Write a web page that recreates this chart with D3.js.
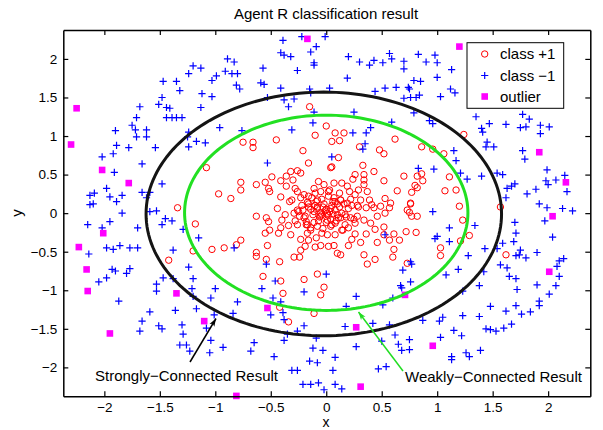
<!DOCTYPE html>
<html><head><meta charset="utf-8">
<script src="https://cdn.jsdelivr.net/npm/d3@7"></script>
<style>body{margin:0;background:#fff}svg{display:block;font-family:"Liberation Sans",Arial,Helvetica,sans-serif}</style>
</head><body><svg id="c" width="603" height="430"></svg>
<script>
const xTicks = [-2,-1.5,-1,-0.5,0,0.5,1,1.5,2];
const yTicks = [-2,-1.5,-1,-0.5,0,0.5,1,1.5,2];
const legendLabels = ["class +1","class \u22121","outlier"];

const classPos = [
[0.00,1.13],[-0.10,1.01],[0.08,1.04],[0.16,1.04],[0.12,0.94],[0.05,0.93],[-0.75,0.92],[-0.66,0.92],[-0.66,0.85],[-0.45,0.95],[-0.21,0.81],[0.30,0.86],[0.48,0.82],[0.52,0.77],[0.62,0.96],[0.11,0.72],[-0.16,0.65],[0.04,0.59],[0.05,0.60],[0.33,0.62],[0.43,0.54],[0.52,0.42],[0.70,0.48],[0.80,0.36],[0.77,0.27],[0.64,0.29],[0.76,0.13],[0.53,0.19],[0.58,0.13],[0.57,0.07],[0.73,0.04],[0.77,-0.04],[0.82,-0.04],
[-0.77,0.40],[-0.77,0.30],[-0.86,0.19],[-0.63,0.37],[-0.55,0.40],[-0.49,0.47],[-0.52,0.32],[-0.51,0.28],[-0.41,0.42],[-0.36,0.48],[-0.32,0.54],[-0.26,0.55],[-0.23,0.52],[-0.30,0.43],[-0.36,0.35],[-0.28,0.32],[-0.23,0.20],[-0.33,0.15],[-0.41,0.21],[-0.44,0.06],[-0.63,-0.04],[-0.54,-0.06],[-0.52,-0.11],[-0.51,-0.22],[-0.55,-0.26],[-0.40,-0.09],[-0.41,-0.19],[-0.43,-0.26],[-0.34,-0.16],[-0.32,-0.28],[-0.26,-0.15],[-0.21,0.04],[-0.19,-0.04],[-0.17,-0.15],[-0.17,-0.26],[-0.23,-0.34],[-0.16,-0.35],[-0.09,-0.32],[-0.05,-0.42],[-0.10,-0.44],[-0.19,-0.43],[-0.92,-0.45],[-0.81,-0.41],[-0.77,-0.35],[-0.63,-0.51],[-0.63,-0.56],[-0.53,-0.42],[-0.54,-0.60],[-0.42,-0.63],[-0.29,-0.57],[-0.23,-0.48],[-0.24,-0.57],[-0.57,-0.82],[-0.41,-0.88],[-0.39,-1.04],[-0.20,-0.86],[-0.08,-0.79],[-0.02,-0.96],[-0.05,-1.06],[0.10,-0.52],[0.13,-0.54],[0.02,-0.43],[0.07,-0.42],[0.20,-0.42],[0.23,-0.34],[0.26,-0.27],[0.31,-0.38],[0.36,-0.27],[0.44,-0.21],[0.46,-0.38],[0.34,-0.54],[0.37,-0.66],[0.44,-0.60],[0.52,-0.18],[0.52,-0.28],[0.57,-0.35],[0.61,-0.27],[0.66,-0.35],[0.61,-0.47],[0.60,-0.57],[0.73,-0.65],
[-0.16,0.22],[-0.11,0.32],[-0.07,0.41],[-0.05,0.28],[-0.02,0.37],[0.02,0.28],[0.07,0.39],[0.14,0.39],[0.19,0.35],[0.24,0.44],[0.26,0.50],[0.34,0.50],[0.34,0.43],[0.34,0.37],[0.37,0.28],[0.29,0.30],[0.26,0.24],[0.21,0.28],[0.31,0.17],[0.39,0.17],[0.41,0.11],[0.43,0.07],[0.36,0.07],[0.29,0.08],[0.23,0.10],[0.19,0.13],[0.13,0.17],[0.08,0.15],[-0.08,0.17],[-0.16,0.08],[-0.11,0.02],[-0.08,0.08],[-0.05,-0.04],[0.01,-0.09],[0.04,-0.17],[0.08,-0.13],[0.13,-0.06],[0.17,-0.02],[0.22,-0.06],[0.26,-0.13],[0.20,-0.19],[0.14,-0.22],[0.08,-0.28],[0.01,-0.28],[-0.04,-0.26],[-0.08,-0.17],[-0.14,-0.19],[-0.18,-0.11],[-0.24,-0.04],[-0.26,0.04],[-0.29,0.00],[-0.31,0.17],[-0.37,-0.02],[-0.26,0.28],[-0.20,0.24],[-0.17,0.14],[0.28,-0.04],[0.34,-0.09],[0.40,-0.13],[0.46,-0.04],[0.53,0.00],[0.49,0.09],
[0.00,0.05],[0.03,0.02],[-0.03,0.08],[0.05,0.10],[-0.05,0.00],[0.02,-0.03],[0.08,0.04],[-0.08,0.06],[0.10,-0.02],[-0.02,0.12],[0.06,0.15],[-0.06,-0.05],[0.12,0.08],[-0.10,0.10],[0.04,-0.08],[-0.04,0.18],[0.09,-0.10],[-0.12,-0.02],[0.14,0.00],[0.00,-0.12],[0.07,0.20],[-0.09,0.15],[0.16,0.12],[-0.14,0.05],[0.11,-0.06],[0.02,0.22],[-0.07,-0.10],[0.18,-0.05],[-0.16,0.12],[0.05,-0.15],[0.20,0.06],[-0.20,-0.06],[0.13,0.17],[-0.11,-0.12],[0.01,0.00],[-0.01,0.03],[0.04,0.06],[-0.04,-0.02],[0.06,-0.01],[0.10,0.12],[-0.13,0.20],[0.22,0.18],[-0.22,0.10],[0.17,-0.15],[-0.18,-0.15],[0.25,-0.08],[-0.25,0.02],[0.03,0.30],[-0.03,-0.20],[0.28,0.10],[-0.28,-0.10],[0.12,0.26],[-0.10,0.26],[0.15,-0.22],[-0.14,-0.22],
[-0.97,0.25],[0.82,0.48],[0.82,0.33],[0.76,0.12],[0.75,0.01],
[-0.15,1.38],[-1.08,0.59],[1.24,1.02],[0.86,0.86],[0.96,0.83],[1.06,0.77],[0.86,0.51],[0.87,0.42],[1.11,0.47],[1.07,0.29],[1.17,0.30],[1.20,0.09],[1.57,0.08],[0.72,-0.24],[0.81,-0.25],[1.23,-0.09],[1.29,-0.29],[1.21,-0.36],[1.03,-0.45],[1.03,-0.55],[1.62,-0.54],[-1.03,-0.47],[-0.34,-1.41],[-0.11,-1.30],[-0.42,-1.22],[-1.42,-0.61],[-1.20,-0.49],[-1.18,-0.14],[-1.34,0.07]
];

const classNeg = [
[-1.20,1.91],[-1.24,1.81],[-1.47,1.71],[-1.35,1.71],[-1.32,1.59],[-1.48,1.50],[-1.51,1.41],[-1.44,1.37],[-1.41,1.36],[-1.68,1.38],[-1.71,1.24],[-1.75,1.14],[-1.72,1.08],[-1.62,1.08],[-1.44,1.24],[-1.39,1.24],[-1.35,1.24],[-1.30,1.24],[-1.90,1.07],[-1.71,0.99],[-1.62,0.99],[-1.24,1.05],[-1.25,0.99],[-1.17,0.93],[-1.24,0.86],[-1.54,0.85],[-1.78,0.85],[-1.89,0.88],[-1.92,0.77],[-2.02,0.73],[-1.91,0.53],[-1.66,0.64],[-1.48,0.38],[-1.98,0.32],[-2.09,0.26],[-2.13,0.23],[-2.10,0.12],[-2.13,0.11],[-1.95,0.21],[-1.89,0.15],[-1.84,0.23],[-1.66,0.27],[-1.62,0.20],[-1.59,0.27],[-1.53,0.03],[-1.59,0.02],[-1.84,0.00],[-1.13,1.37],
[-0.39,2.24],[-0.22,2.29],[-0.01,2.29],[-0.09,2.16],[-0.41,2.08],[-0.38,2.05],[-0.32,2.03],[-0.14,2.09],[-0.11,1.95],[-0.11,1.92],[-0.26,1.85],[0.20,2.03],[0.30,1.96],[0.39,1.92],[0.43,1.98],[0.51,1.95],[0.57,2.07],[0.59,2.00],[-0.89,2.00],[-0.83,1.96],[-0.91,1.84],[-0.85,1.81],[-0.80,1.81],[-0.99,1.78],[-1.03,1.72],[-0.57,1.88],[-0.59,1.69],[-0.56,1.67],[-0.81,1.66],[-0.78,1.61],[-1.13,1.88],[-1.12,1.55],[-1.03,1.51],[-0.41,1.62],[-0.15,1.61],[-0.14,1.56],[0.03,1.62],[0.19,1.75],[0.44,1.58],[0.53,1.62],[0.63,1.63],[-0.53,1.50],[-0.38,1.47],[-0.29,1.48],[-0.34,1.38],[-0.11,1.31],[0.25,1.31],[-0.12,1.17],[-0.96,1.11],[-0.76,1.07],[-1.09,0.91],[0.24,1.04],[0.36,1.04],[0.40,1.11],[0.59,1.18],[0.35,0.90],[0.33,0.83],[0.05,0.73],[-0.53,0.65],[-0.31,1.08],
[0.70,1.97],[0.70,1.87],[0.83,2.06],[0.90,1.96],[0.98,2.05],[1.00,1.95],[1.13,1.86],[1.00,1.76],[0.79,1.72],[0.85,1.71],[0.74,1.63],[0.75,1.61],[0.81,1.50],[0.76,1.50],[0.70,1.49],[0.84,1.53],[1.03,1.51],[1.12,1.61],[1.16,1.56],[0.79,1.30],[0.93,1.20],[0.96,1.16],[1.35,1.25],[1.40,1.10],[1.41,1.05],[1.47,1.16],[1.62,1.15],[1.77,1.28],[1.83,1.22],[1.80,1.12],[1.75,1.11],[1.93,1.14],[2.01,1.12],[1.93,1.03],[1.45,0.92],[1.44,0.86],[1.51,0.86],[1.77,0.81],[1.79,0.70],[1.99,0.56],[2.07,0.43],[1.98,0.42],[2.00,0.37],[2.15,0.49],[2.17,0.28],[0.83,0.58],[0.97,0.57],[1.15,0.81],[1.17,0.68],[1.21,0.52],[1.27,0.44],[1.40,0.48],[1.54,0.52],[1.59,0.50],[1.63,0.32],[1.67,0.35],[1.70,0.38],[1.89,0.31],[1.81,0.25],[1.62,0.20],[1.92,0.12],[1.99,0.07],[2.13,0.06],[2.22,0.03],[0.96,0.02],
[-2.15,-0.15],[-2.02,-0.19],[-1.95,-0.11],[-1.70,-0.19],[-1.98,-0.45],[-1.92,-0.47],[-1.86,-0.42],[-1.77,-0.45],[-1.70,-0.45],[-2.14,-0.53],[-1.48,-0.15],[-1.45,-0.07],[-1.39,-0.10],[-1.29,-0.21],[-1.15,-0.32],[-1.38,-0.48],[-1.93,-0.73],[-1.90,-0.75],[-1.98,-0.84],[-2.05,-0.89],[-1.80,-0.78],[-1.77,-0.72],[-1.47,-0.84],[-1.53,-0.92],[-1.53,-1.01],[-1.38,-0.85],[-1.24,-0.70],[-1.20,-0.85],[-1.21,-0.98],[-1.20,-1.08],[-1.17,-1.24],[-1.87,-1.14],[-1.59,-1.28],[-1.66,-1.40],[-1.68,-1.53],[-1.51,-1.46],[-1.48,-1.50],[-1.36,-1.26],[-1.30,-1.45],[-1.29,-1.57],[-1.32,-1.71],[-1.26,-1.71],[-1.23,-1.79],
[-0.83,-0.45],[0.00,-0.79],[-0.58,-0.98],[-1.00,-0.98],[-1.04,-1.10],[-0.80,-1.15],[-0.48,-1.10],[-0.41,-1.15],[-0.39,-1.29],[-0.50,-1.32],[-0.38,-1.38],[-0.84,-1.30],[-1.01,-1.32],[-1.08,-1.49],[-1.04,-1.65],[-0.93,-1.74],[-1.05,-1.81],[-0.65,-1.68],[-0.68,-1.79],[-0.47,-1.86],[-0.38,-1.65],[-0.35,-1.57],[-0.26,-1.53],[-0.20,-1.46],[-0.09,-1.62],[-0.12,-1.75],[-0.03,-1.78],[0.08,-1.87],[0.06,-2.04],[-0.15,-1.92],[-0.08,-1.94],[-0.31,-2.04],[-0.26,-2.04],[-0.21,-2.22],[-0.14,-2.22],[-0.07,-2.20],[-0.02,-2.29],[0.08,-2.22],[0.14,-2.28],[0.17,-1.47],[0.27,-1.08],[0.18,-1.21],[0.42,-1.43],[0.51,-1.19],[0.57,-1.45],[0.62,-1.58],[0.65,-1.70],[0.50,-1.66],[0.27,-1.73],[0.47,-2.02],[0.54,-1.99],[0.68,-1.78],[0.60,-1.10],[0.68,-0.97],
[1.11,-0.19],[0.98,-0.33],[1.00,-0.30],[1.11,-0.37],[1.34,-0.16],[1.43,-0.46],[1.54,-0.46],[1.59,-0.39],[1.70,-0.12],[1.71,-0.26],[1.69,-0.37],[1.75,-0.48],[1.74,-0.54],[1.80,-0.58],[1.71,-0.55],[1.90,-0.51],[1.97,-0.10],[2.04,-0.31],[2.10,-0.62],[2.14,-0.59],[2.08,-0.69],[2.10,-0.82],[2.07,-0.94],[2.01,-1.05],[1.90,-0.93],[1.92,-1.14],[1.92,-1.20],[1.84,-1.28],[1.76,-1.31],[1.71,-1.20],[1.62,-1.27],[1.67,-1.44],[1.60,-1.49],[1.53,-1.53],[1.48,-1.51],[1.44,-1.50],[1.48,-1.21],[1.38,-1.34],[1.23,-1.33],[1.22,-1.59],[1.15,-1.52],[1.03,-1.61],[1.05,-1.35],[1.02,-1.40],[0.87,-1.39],[0.75,-1.64],[0.75,-1.77],[1.13,-1.86],[1.13,-1.90],[1.26,-1.81],[1.29,-1.86],[1.39,-1.78],[1.19,-0.73],[1.08,-0.80],[1.28,-0.55],[1.42,-0.76],[1.38,-0.94],[1.23,-1.01],[1.57,-0.67],[1.63,-0.71],[1.65,-0.82],[1.71,-0.85],[1.72,-0.99],
[-0.54,-0.66],[-0.46,-0.88],[-0.20,-1.02],[0.69,-0.74],[0.76,-0.63],[0.77,-0.66],[0.76,-0.89],[0.67,-0.94],[0.53,-0.28]
];

const outliers = [
[-2.25,1.36],[-2.30,0.89],[-2.02,0.56],[-1.78,0.39],[-0.17,2.26],[1.20,2.16],[1.92,0.79],[2.16,0.40],
[-2.01,-0.26],[-2.23,-0.44],[-2.16,-0.73],[-2.15,-1.01],[-1.35,-1.04],[-1.95,-1.56],[-1.10,-1.40],
[-0.53,-1.23],[0.27,-1.48],[0.31,-2.25],[-0.81,-2.37],[2.04,-0.04],[2.01,-0.76],[0.96,-1.72],[0.71,-1.06]
];

// decision boundaries as ellipses: [centre x, centre y, semi-axis x, semi-axis y]
const strongBoundary = [-0.022, -0.01, 1.602, 1.58];
const weakBoundary = [0.0, 0.005, 1.277, 1.266];

// ---- layout ----
const L = 63.3, R = 590.3, T = 30, B = 396.3;
const svg = d3.select("#c");
const x = d3.scaleLinear().domain([-2.37, 2.38]).range([L, R]);
const y = d3.scaleLinear().domain([-2.375, 2.375]).range([B, T]);
const fmt = d3.format("~g");

const plot = svg.append("g");

plot.append("g").selectAll("circle").data(classPos).join("circle")
  .attr("cx", d => x(d[0])).attr("cy", d => y(d[1])).attr("r", 3.2)
  .attr("fill", "none").attr("stroke", "#ff0000").attr("stroke-width", 1);

plot.append("g").selectAll("path").data(classNeg).join("path")
  .attr("d", d => `M${x(d[0])-3.6},${y(d[1])}h7.2M${x(d[0])},${y(d[1])-3.6}v7.2`)
  .attr("stroke", "#0000ff").attr("stroke-width", 1.2).attr("fill", "none");

plot.append("g").selectAll("rect").data(outliers).join("rect")
  .attr("x", d => x(d[0]) - 3.3).attr("y", d => y(d[1]) - 3.3)
  .attr("width", 6.6).attr("height", 6.6).attr("fill", "#ff00ff");

const angles = d3.range(0, 361, 2).map(a => a * Math.PI / 180);
const line = d3.line().x(d => x(d[0])).y(d => y(d[1]));
const ellipsePts = e => angles.map(t => [e[0] + e[2] * Math.cos(t), e[1] + e[3] * Math.sin(t)]);
plot.append("path").attr("d", line(ellipsePts(weakBoundary))).attr("fill", "none")
  .attr("stroke", "#22e022").attr("stroke-width", 3);
plot.append("path").attr("d", line(ellipsePts(strongBoundary))).attr("fill", "none")
  .attr("stroke", "#141414").attr("stroke-width", 3);

// axes
const ax = svg.append("g");
function styleAxis(g) {
  g.selectAll(".domain").attr("stroke", "#000").attr("stroke-width", 1.5);
  g.selectAll(".tick line").attr("stroke", "#000").attr("stroke-width", 1.2);
  g.selectAll("text").attr("fill", "#000").style("font-family", '"Liberation Sans",Arial,sans-serif').attr("font-size", 13.5);
}
ax.append("g").attr("transform", `translate(0,${B})`)
  .call(d3.axisBottom(x).tickValues(xTicks).tickFormat(fmt).tickSizeInner(-5).tickSizeOuter(0).tickPadding(6)).call(styleAxis);
ax.append("g").attr("transform", `translate(0,${T})`)
  .call(d3.axisTop(x).tickValues(xTicks).tickFormat("").tickSizeInner(-5).tickSizeOuter(0)).call(styleAxis);
ax.append("g").attr("transform", `translate(${L},0)`)
  .call(d3.axisLeft(y).tickValues(yTicks).tickFormat(fmt).tickSizeInner(-5).tickSizeOuter(0).tickPadding(6)).call(styleAxis);
ax.append("g").attr("transform", `translate(${R},0)`)
  .call(d3.axisRight(y).tickValues(yTicks).tickFormat("").tickSizeInner(-5).tickSizeOuter(0)).call(styleAxis);

svg.append("text").attr("x", 326).attr("y", 19).attr("text-anchor", "middle")
  .attr("font-size", 15).text("Agent R classification result");
svg.append("text").attr("x", 326).attr("y", 426.5).attr("text-anchor", "middle")
  .attr("font-size", 14).text("x");
svg.append("text").attr("transform", "translate(22,213) rotate(-90)").attr("text-anchor", "middle")
  .attr("font-size", 15).text("y");

// annotations with arrows
const defs = svg.append("defs");
function marker(id, color) {
  defs.append("marker").attr("id", id).attr("viewBox", "0 0 10 10").attr("refX", 10).attr("refY", 5)
    .attr("markerWidth", 8).attr("markerHeight", 8).attr("markerUnits", "userSpaceOnUse").attr("orient", "auto")
    .append("path").attr("d", "M0,1.5L10,5L0,8.5L2.5,5Z").attr("fill", color);
}
marker("ab", "#000"); marker("ag", "#22dd22");
svg.append("line").attr("x1", 190).attr("y1", 362).attr("x2", 216).attr("y2", 318.5)
  .attr("stroke", "#000").attr("stroke-width", 1.5).attr("marker-end", "url(#ab)");
svg.append("line").attr("x1", 403).attr("y1", 371).attr("x2", 358.5).attr("y2", 312)
  .attr("stroke", "#22dd22").attr("stroke-width", 1.5).attr("marker-end", "url(#ag)");
svg.append("text").attr("x", 95).attr("y", 381).attr("font-size", 15).text("Strongly\u2212Connected Result");
svg.append("text").attr("x", 405).attr("y", 382).attr("font-size", 15).text("Weakly\u2212Connected Result");

// legend
const lg = svg.append("g");
lg.append("rect").attr("x", 467).attr("y", 42.7).attr("width", 96.7).attr("height", 65.6)
  .attr("fill", "#fff").attr("stroke", "#000").attr("stroke-width", 1);
const rows = [54, 75.5, 96.5];
lg.append("circle").attr("cx", 484.7).attr("cy", rows[0]).attr("r", 3.2).attr("fill", "none").attr("stroke", "#ff0000");
lg.append("path").attr("d", `M${484.7-3.6},${rows[1]}h7.2M484.7,${rows[1]-3.6}v7.2`).attr("stroke", "#0000ff").attr("stroke-width", 1.2);
lg.append("rect").attr("x", 484.7-3.3).attr("y", rows[2]-3.3).attr("width", 6.6).attr("height", 6.6).attr("fill", "#ff00ff");
lg.selectAll("text.l").data(legendLabels).join("text").attr("class", "l")
  .attr("x", 500).attr("y", (d, i) => rows[i] + 5.3).attr("font-size", 15).text(d => d);
</script></body></html>
